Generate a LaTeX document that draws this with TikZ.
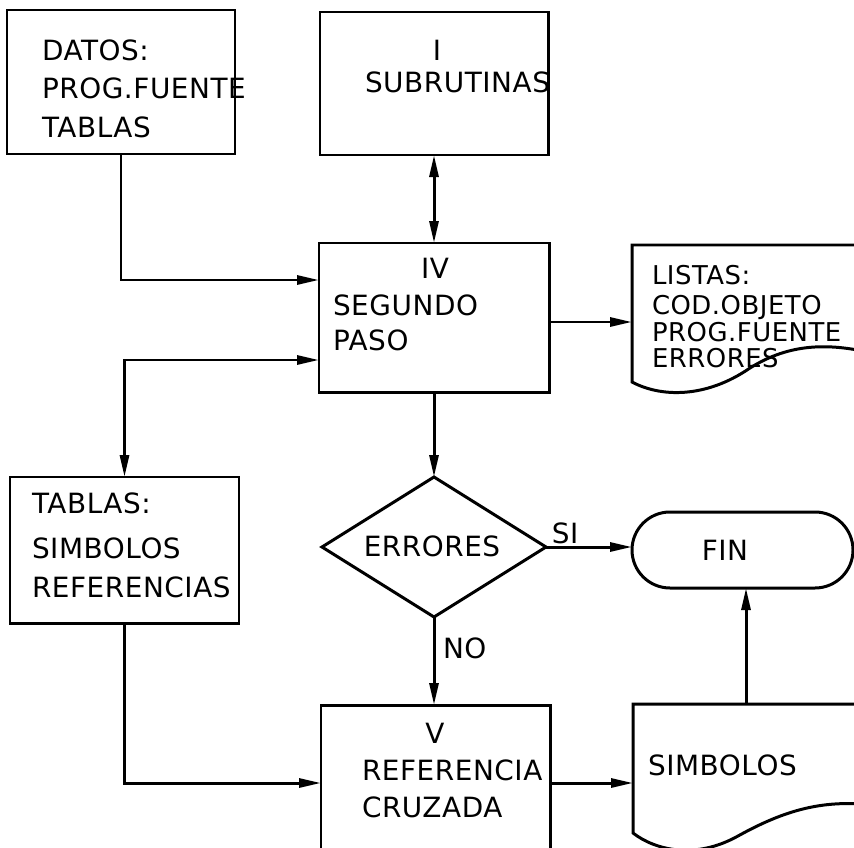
\documentclass[tikz,border=0pt]{standalone}
\usepackage{fontspec}
\setmainfont{DejaVu Sans}[LetterSpace=2]
\usetikzlibrary{arrows.meta,shapes.geometric}

\begin{document}
\begin{tikzpicture}[x=1bp,y=-1bp,
  line width=3pt,
  every node/.style={outer sep=0pt},
  procbox/.style={draw, rectangle, inner sep=0pt},
  txt/.style={inner sep=0pt, anchor=west, font=\fontsize{28}{30}\selectfont},
  ctxt/.style={inner sep=0pt, font=\fontsize{28}{30}\selectfont},
  listtxt/.style={inner sep=0pt, anchor=west, font=\fontsize{26}{28}\selectfont},
  tip/.tip={Triangle[length=22bp,width=9bp]},
  flow/.style={-tip},
  twoway/.style={tip-tip},
]
\useasboundingbox (0,0) rectangle (854,848);

% process boxes
\node[procbox, minimum width=228bp, minimum height=144bp] (datos) at (121,82) {};
\node[procbox, minimum width=228bp, minimum height=143bp] (subr) at (434,83.5) {};
\node[procbox, minimum width=230bp, minimum height=149bp] (iv) at (434,317.5) {};
\node[procbox, minimum width=229bp, minimum height=146bp] (tablas) at (124.5,550) {};
\node[procbox, minimum width=229bp, minimum height=150bp] (v) at (435.5,780) {};

% decision and terminal
\node[draw, diamond, inner sep=0pt, minimum width=224bp, minimum height=140bp] (dec) at (434,547) {};
\node[draw, rectangle, rounded corners=38bp, inner sep=0pt, minimum width=221bp, minimum height=76bp] (fin) at (742.5,550) {};

% document symbols (printed output)
\begin{scope}
\clip (0,0) rectangle (854,848);
\draw (880,245) -- (632,245) -- (632,382)
  .. controls (660,397) and (705,399) .. (750,368)
  .. controls (790,343) and (830,342) .. (880,355);
\draw (880,704) -- (633,704) -- (633,833)
  .. controls (655,850) and (695,860) .. (738,836)
  .. controls (785,810) and (825,798) .. (880,806);
\end{scope}
\coordinate (listas) at (632,322);
\coordinate (simb) at (633,783);
\coordinate (simbtop) at (746,704);

% texts
\node[txt] (t1) at (42,50) {DATOS:};
\node[txt] (t2) at (42,88) {PROG.FUENTE};
\node[txt] (t3) at (42,127) {TABLAS};

\node[ctxt] (t4) at (437,50) {I};
\node[txt] (t5) at (365,82) {SUBRUTINAS};

\node[ctxt] (t6) at (435,268) {IV};
\node[txt] (t7) at (333,305) {SEGUNDO};
\node[txt] (t8) at (333,340) {PASO};

\node[listtxt] (t9) at (652,275) {LISTAS:};
\node[listtxt] (t10) at (652,307) {COD.OBJETO};
\node[listtxt] (t11) at (652,332) {PROG.FUENTE};
\node[listtxt] (t12) at (652,358) {ERRORES};

\node[txt] (t13) at (32,503) {TABLAS:};
\node[txt] (t14) at (32,548) {SIMBOLOS};
\node[txt] (t15) at (32,587) {REFERENCIAS};

\node[ctxt] (t16) at (432,546) {ERRORES};
\node[ctxt] (t17) at (725,550) {FIN};
\node[ctxt] (t18) at (565,533) {SI};
\node[txt] (t19) at (443,648) {NO};

\node[ctxt] (t20) at (435,733) {V};
\node[txt] (t21) at (362,770) {REFERENCIA};
\node[txt] (t22) at (362,807) {CRUZADA};

\node[txt] (t23) at (648,765) {SIMBOLOS};

% connectors
\coordinate (j1) at (0,280);
\coordinate (j2) at (0,360);
\coordinate (j3) at (0,783);
\draw[flow] (datos.south) |- (iv.west |- j1);
\draw[twoway] (subr.south) -- (iv.north);
\draw[flow] (iv.east |- listas) -- (listas);
\draw[twoway] (iv.west |- j2) -| (tablas.north);
\draw[flow] (iv.south) -- (dec.north);
\draw[flow] (dec.east) -- (dec.east -| fin.west);
\draw[flow] (dec.south) -- (dec.south |- v.north);
\draw[flow] (tablas.south) |- (v.west |- j3);
\draw[flow] (v.east |- simb) -- (simb);
\draw[flow] (simbtop) -- (simbtop |- fin.south);
\end{tikzpicture}
\end{document}
